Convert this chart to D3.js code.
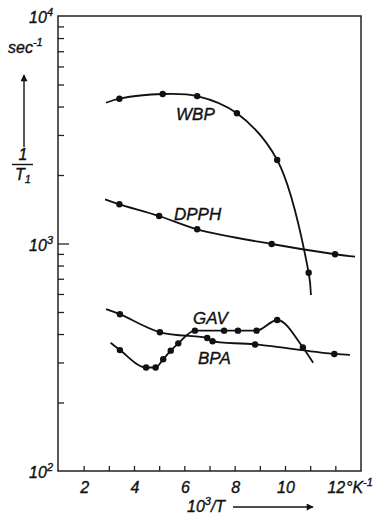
<!DOCTYPE html>
<html>
<head>
<meta charset="utf-8">
<script src="https://cdn.jsdelivr.net/npm/d3@7"></script>
<style>
body { margin:0; background:#fff; }
text { font-family:"Liberation Sans", Arial, sans-serif; font-style:italic; fill:#111; stroke:#111; stroke-width:0.35; }
</style>
</head>
<body>
<svg id="chart"></svg>
<script>
// values: 10^3/T in 1/K, 1/T1 in 1/sec
var wbpX = [3.42, 5.14, 6.51, 8.09, 9.69, 10.94];
var wbpY = [4330, 4540, 4446, 3736, 2328, 744];
var wbpFrom = [2.89, 4155], wbpTo = [11.03, 594];

var dpphX = [3.42, 5.00, 6.51, 9.47, 11.99];
var dpphY = [1487, 1321, 1155, 995, 897];
var dpphFrom = [2.85, 1564], dpphTo = [12.78, 875];

var bpaX = [3.44, 5.03, 6.91, 7.12, 8.81, 11.96];
var bpaY = [489, 407, 384, 372, 360, 327];
var bpaFrom = [2.89, 515], bpaTo = [12.58, 324];

var gavX = [3.44, 4.48, 4.86, 5.16, 5.46, 5.76, 6.42, 7.58, 8.13, 8.87, 9.69, 10.71];
var gavY = [340, 285, 285, 310, 338, 364, 414, 414, 414, 414, 461, 349];
var gavFrom = [3.07, 366], gavTo = [11.12, 299];

var xTicks = [2, 3, 4, 5, 6, 7, 8, 9, 10, 11, 12];
var xTickLabels = [2, 4, 6, 8, 10, 12];
var yMinor = [200, 300, 400, 500, 600, 700, 800, 900, 2000, 3000, 4000, 5000, 6000, 7000, 8000, 9000];
var yDecades = [100, 1000, 10000];
var yDecadeExp = ["2", "3", "4"];

var screen = {width:374, height:516};
var frame = {left:58, right:361, top:16, bottom:471};

var svg = d3.select("#chart")
    .attr("width", screen.width)
    .attr("height", screen.height);

var xScale = d3.scaleLinear()
    .domain([1, 13])
    .range([frame.left + 0.5, frame.right - 0.5]);

var yScale = d3.scaleLog()
    .domain([100, 10000])
    .range([frame.bottom, frame.top]);

// frame
svg.append("rect")
    .attr("x", frame.left)
    .attr("y", frame.top)
    .attr("width", frame.right - frame.left)
    .attr("height", frame.bottom - frame.top)
    .attr("fill", "none")
    .attr("stroke", "#222")
    .attr("stroke-width", 1.5);

// x ticks pointing inward
var xAxis = d3.axisBottom(xScale)
    .tickValues(xTicks)
    .tickSize(-5)
    .tickFormat("");
svg.append("g")
    .attr("transform", "translate(0," + frame.bottom + ")")
    .call(xAxis)
    .call(function(g) { g.select(".domain").remove(); })
    .selectAll("line").attr("stroke", "#222").attr("stroke-width", 1.3);

svg.selectAll(".xlab")
    .data(xTickLabels)
    .enter()
    .append("text")
    .attr("class", "xlab")
    .attr("x", function(d) { return xScale(d) + 1; })
    .attr("y", 493)
    .attr("text-anchor", "middle")
    .attr("font-size", 16)
    .text(function(d) { return d; });

var unit = svg.append("text")
    .attr("x", 346)
    .attr("y", 493)
    .attr("font-size", 16);
unit.append("tspan").text("°K");
unit.append("tspan").attr("dy", -7).attr("font-size", 11).text("-1");

var xTitle = svg.append("text")
    .attr("x", 187)
    .attr("y", 512)
    .attr("font-size", 16);
xTitle.append("tspan").text("10");
xTitle.append("tspan").attr("dy", -7).attr("font-size", 11).text("3");
xTitle.append("tspan").attr("dy", 7).text("/T");

svg.append("defs").append("marker")
    .attr("id", "arrow")
    .attr("viewBox", "0 0 10 10")
    .attr("refX", 9)
    .attr("refY", 5)
    .attr("markerWidth", 11)
    .attr("markerHeight", 7)
    .attr("markerUnits", "userSpaceOnUse")
    .attr("orient", "auto")
    .append("path")
    .attr("d", "M0,0L10,5L0,10z")
    .attr("fill", "#111");

svg.append("line")
    .attr("x1", 233).attr("y1", 507)
    .attr("x2", 313).attr("y2", 507)
    .attr("stroke", "#111").attr("stroke-width", 1.4)
    .attr("marker-end", "url(#arrow)");

// y ticks pointing inward
var yMinorAxis = d3.axisLeft(yScale)
    .tickValues(yMinor)
    .tickSize(-6)
    .tickFormat("");
svg.append("g")
    .attr("transform", "translate(" + frame.left + ",0)")
    .call(yMinorAxis)
    .call(function(g) { g.select(".domain").remove(); })
    .selectAll("line").attr("stroke", "#222").attr("stroke-width", 1.3);

var yMajorAxis = d3.axisLeft(yScale)
    .tickValues([1000])
    .tickSize(-11)
    .tickFormat("");
svg.append("g")
    .attr("transform", "translate(" + frame.left + ",0)")
    .call(yMajorAxis)
    .call(function(g) { g.select(".domain").remove(); })
    .selectAll("line").attr("stroke", "#222").attr("stroke-width", 1.3);

yDecades.forEach(function(v, i) {
    var t = svg.append("text")
        .attr("x", 53)
        .attr("y", yScale(v) + 7)
        .attr("text-anchor", "end")
        .attr("font-size", 16);
    t.append("tspan").text("10");
    t.append("tspan").attr("dy", -7).attr("font-size", 11).text(yDecadeExp[i]);
});

var sec = svg.append("text")
    .attr("x", 8)
    .attr("y", 53)
    .attr("font-size", 16);
sec.append("tspan").text("sec");
sec.append("tspan").attr("dy", -7).attr("font-size", 11).text("-1");

svg.append("line")
    .attr("x1", 24).attr("y1", 147)
    .attr("x2", 24).attr("y2", 75)
    .attr("stroke", "#111").attr("stroke-width", 1.4)
    .attr("marker-end", "url(#arrow)");

svg.append("text")
    .attr("x", 23).attr("y", 160)
    .attr("text-anchor", "middle")
    .attr("font-size", 16)
    .text("1");
svg.append("line")
    .attr("x1", 12).attr("y1", 164.5)
    .attr("x2", 33).attr("y2", 164.5)
    .attr("stroke", "#111").attr("stroke-width", 1.4);
var tOne = svg.append("text")
    .attr("x", 23).attr("y", 180)
    .attr("text-anchor", "middle")
    .attr("font-size", 16);
tOne.append("tspan").text("T");
tOne.append("tspan").attr("dy", 3).attr("font-size", 11).text("1");

// curves and points
var series = [
    {name:"WBP", x:wbpX, y:wbpY, from:wbpFrom, to:wbpTo, curve:d3.curveCatmullRom, lx:176, ly:120},
    {name:"DPPH", x:dpphX, y:dpphY, from:dpphFrom, to:dpphTo, curve:d3.curveCatmullRom, lx:174, ly:220},
    {name:"BPA", x:bpaX, y:bpaY, from:bpaFrom, to:bpaTo, curve:d3.curveCatmullRom, lx:198, ly:364},
    {name:"GAV", x:gavX, y:gavY, from:gavFrom, to:gavTo, curve:d3.curveMonotoneX, lx:193, ly:324}
];

var line = d3.line()
    .x(function(d) { return xScale(d[0]); })
    .y(function(d) { return yScale(d[1]); });

series.forEach(function(s) {
    var pts = s.x.map(function(v, i) { return [v, s.y[i]]; });
    var path = [s.from].concat(pts, [s.to]);

    svg.append("path")
        .datum(path)
        .attr("d", line.curve(s.curve))
        .attr("fill", "none")
        .attr("stroke", "#111")
        .attr("stroke-width", 1.8);

    svg.selectAll(".pt-" + s.name)
        .data(pts)
        .enter()
        .append("circle")
        .attr("class", "pt-" + s.name)
        .attr("cx", function(d) { return xScale(d[0]); })
        .attr("cy", function(d) { return yScale(d[1]); })
        .attr("r", 3.2)
        .attr("fill", "#111");

    svg.append("text")
        .attr("x", s.lx)
        .attr("y", s.ly)
        .attr("font-size", 17)
        .text(s.name);
});
</script>
</body>
</html>
